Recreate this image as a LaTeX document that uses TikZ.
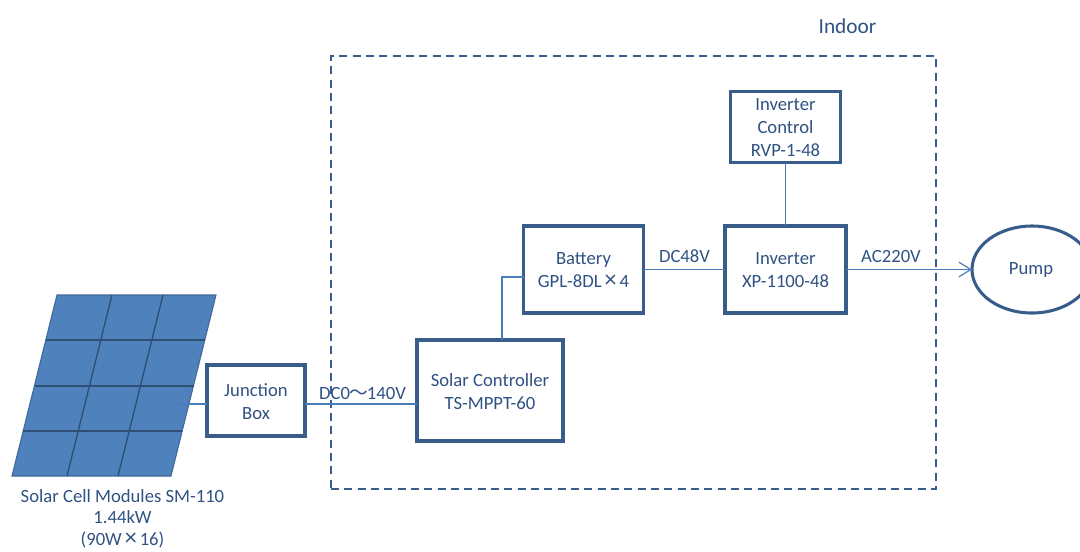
\documentclass[tikz,border=0pt]{standalone}
\usepackage{fontspec}
\setmainfont{Carlito}
\newfontfamily\cjkf{Noto Sans CJK JP}
\usetikzlibrary{shapes.geometric,arrows.meta}
\definecolor{boxc}{HTML}{385D8A}
\definecolor{linec}{HTML}{4A7EBB}
\definecolor{panelc}{HTML}{4F81BD}
\definecolor{textc}{HTML}{2F5283}
\newcommand{\mytimes}{\kern0.16em {\fontsize{18}{17.25}\selectfont ×}\kern0.16em }
\tikzset{
  x=0.75pt,y=-0.75pt,
  txt/.style={text=textc,font=\fontsize{14}{17.25}\selectfont,align=center,inner sep=0pt,outer sep=0pt},
  blockbox/.style={draw=boxc,line width=2.3pt,fill=white,minimum width=#1,inner sep=0pt,outer sep=0pt},
  conn/.style={draw=linec,line width=0.9pt},
  gridline/.style={draw=boxc!85!black,line width=1pt},
}
\begin{document}
\begin{tikzpicture}
\useasboundingbox (0,0) rectangle (1080,551);
\clip (0,0) rectangle (1080,551);
% indoor frame
\node[txt,font=\fontsize{16}{19}\selectfont] (indoor) at (847.5,26) {Indoor};
\node[draw=boxc,line width=1.1pt,dash pattern=on 6pt off 4pt,minimum width=605*0.75pt,minimum height=433*0.75pt,inner sep=0pt,outer sep=0pt] (frame) at (633.5,272.5) {};
% solar panel
\fill[panelc,draw=boxc!70!panelc,line width=0.8pt] (57,295) -- (216,295) -- (171,476) -- (12,476) -- cycle;
\foreach \ta/\ba in {112/67,163/118}{\draw[gridline] (\ta,295) -- (\ba,476);}
\draw[gridline] (45.8,340) -- (204.8,340);
\draw[gridline] (34.5,386) -- (193.5,386);
\draw[gridline] (23.2,431) -- (182.2,431);
\node[txt,font=\fontsize{14}{16.2}\selectfont] (paneltext) at (122.5,518.5) {Solar Cell Modules SM-110\\1.44kW\\(90W\mytimes 16)};
% blocks
\node[blockbox=98*0.75pt,minimum height=71*0.75pt] (jb) at (256,400.5) {};
\node[blockbox=146*0.75pt,minimum height=101*0.75pt] (sc) at (490,390.5) {};
\node[blockbox=120*0.75pt,minimum height=87*0.75pt] (bat) at (583.5,269.5) {};
\node[blockbox=121*0.75pt,minimum height=87*0.75pt] (inv) at (785.5,269.5) {};
\node[blockbox=110*0.75pt,minimum height=71*0.75pt] (ctl) at (785.5,127) {};
\node[ellipse,draw=boxc,line width=2.3pt,fill=white,inner sep=0pt,outer sep=0pt,minimum width=120*0.75pt,minimum height=87*0.75pt] (pump) at (1032,269.5) {};
% block texts
\node[txt] (jbt) at (256,401.5) {Junction\\Box};
\node[txt] (sct) at (490,391.5) {Solar Controller\\TS-MPPT-60};
\node[txt] (batt) at (583.5,270.5) {Battery\\GPL-8DL\mytimes 4};
\node[txt] (invt) at (785.5,270.5) {Inverter\\XP-1100-48};
\node[txt] (ctlt) at (785.5,127.5) {Inverter\\Control\\RVP-1-48};
\node[txt] (pumptext) at (1031,270.5) {Pump};
% connector helpers
\coordinate (panelport) at (177,404);
\coordinate (scport) at (502,277);
% connectors
\draw[conn] (panelport) -- (jb.west |- panelport);
\draw[conn] (jb.east |- panelport) -- (sc.west |- panelport);
\draw[conn] (sc.north -| scport) -- (scport) -- (bat.west |- scport);
\draw[conn] (bat.east) -- (inv.west);
\draw[conn] (ctl.south) -- (inv.north);
\draw[conn,-{Straight Barb[length=9pt,width=11pt,line width=0.9pt]}] (inv.east) -- (pump.west);
% labels
\node[txt] (l1) at (362.5,393.5) {DC0{\cjkf\kern-0.05em 〜\kern-0.05em}140V};
\node[txt] (l2) at (684.5,256.5) {DC48V};
\node[txt] (l3) at (891,256.5) {AC220V};
\end{tikzpicture}
\end{document}
